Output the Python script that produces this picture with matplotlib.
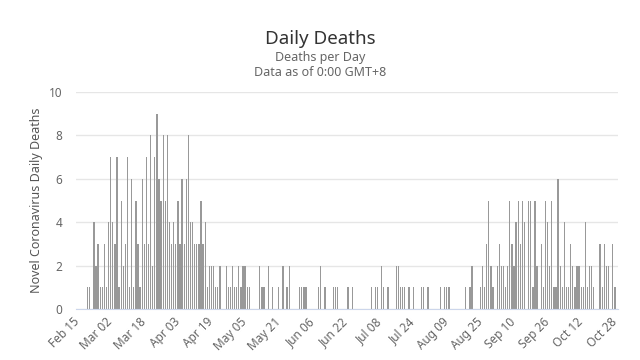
import numpy as np
import pandas as pd
import matplotlib
matplotlib.use('Agg')
import matplotlib.pyplot as plt

# daily deaths, 2020-02-15 .. 2020-10-29
feb = [0, 0, 0, 0, 0, 1, 1, 0, 4, 2, 3, 1, 1, 3, 1]
mar = [4, 7, 4, 3, 7, 1, 5, 2, 3, 7, 1, 6, 1, 5, 3, 1, 6, 3, 7, 3, 8, 2, 7, 9, 6, 5, 8, 5, 8, 4, 3]
apr = [4, 3, 5, 3, 6, 3, 6, 8, 4, 4, 3, 3, 3, 5, 3, 4, 1, 2, 2, 2, 1, 1, 2, 0, 0, 2, 1, 1, 2, 1]
may = [1, 2, 1, 2, 2, 1, 1, 0, 0, 0, 0, 2, 1, 1, 0, 2, 0, 1, 0, 0, 1, 0, 2, 0, 1, 2, 0, 0, 0, 0, 1]
jun = [1, 1, 1, 0, 0, 0, 0, 0, 1, 2, 0, 1, 0, 0, 0, 1, 1, 1, 0, 0, 0, 0, 1, 0, 1, 0, 0, 0, 0, 0]
jul = [0, 0, 0, 1, 0, 1, 1, 0, 2, 1, 0, 1, 0, 0, 0, 2, 2, 1, 1, 1, 0, 1, 0, 1, 0, 0, 0, 1, 1, 0, 1]
aug = [0, 0, 0, 0, 0, 1, 0, 1, 1, 1, 0, 0, 0, 0, 0, 0, 0, 1, 0, 1, 2, 0, 0, 0, 1, 2, 1, 3, 5, 2, 1]
sep = [0, 2, 3, 2, 2, 1, 2, 5, 3, 2, 4, 5, 3, 5, 4, 0, 5, 5, 1, 5, 2, 0, 3, 1, 5, 4, 2, 5, 1, 1]
oct_ = [6, 2, 1, 4, 1, 1, 3, 2, 1, 2, 2, 1, 1, 4, 1, 2, 2, 1, 0, 0, 3, 1, 3, 2, 2, 0, 3, 1, 0]

deaths = feb + mar + apr + may + jun + jul + aug + sep + oct_
dates = pd.date_range('2020-02-15', periods=len(deaths), freq='D')
y_ticks = [0, 2, 4, 6, 8, 10]

plt.rcParams['font.family'] = ['Noto Sans', 'DejaVu Sans']

fig = plt.figure(figsize=(6.4, 3.6), dpi=100)
ax = fig.add_axes([76 / 640, 1 - 309 / 360, 542 / 640, 217 / 360])

x = np.arange(len(deaths))
ax.bar(x, deaths, width=0.62, color='#999999', linewidth=0)

ax.set_xlim(-0.5, len(deaths) - 0.5)
ax.set_ylim(0, 10)
ax.set_yticks(y_ticks)
ax.grid(axis='y', color='#e6e6e6', linewidth=1)
ax.set_axisbelow(True)
for s in ['top', 'right', 'left']:
    ax.spines[s].set_visible(False)
ax.spines['bottom'].set_color('#ccd6eb')

ax.tick_params(axis='y', length=0, pad=10, labelsize=8.5, labelcolor='#666666')
ax.set_xticks(x[::16])
ax.set_xticklabels(dates[::16].strftime('%b %d'), rotation=45, ha='right',
                   va='center', rotation_mode='anchor')
ax.tick_params(axis='x', length=0, pad=8, labelsize=8.5, labelcolor='#666666')

ax.set_ylabel('Novel Coronavirus Daily Deaths', fontsize=9, color='#555555', labelpad=4)

fig.text(0.5, 1 - 39 / 360, 'Daily Deaths', ha='center', va='center', fontsize=13.5, color='#333333')
fig.text(0.5, 1 - 57 / 360, 'Deaths per Day', ha='center', va='center', fontsize=9, color='#666666')
fig.text(0.5, 1 - 72 / 360, 'Data as of 0:00 GMT+8', ha='center', va='center', fontsize=9, color='#666666')

fig.savefig('out.png', dpi=100)
